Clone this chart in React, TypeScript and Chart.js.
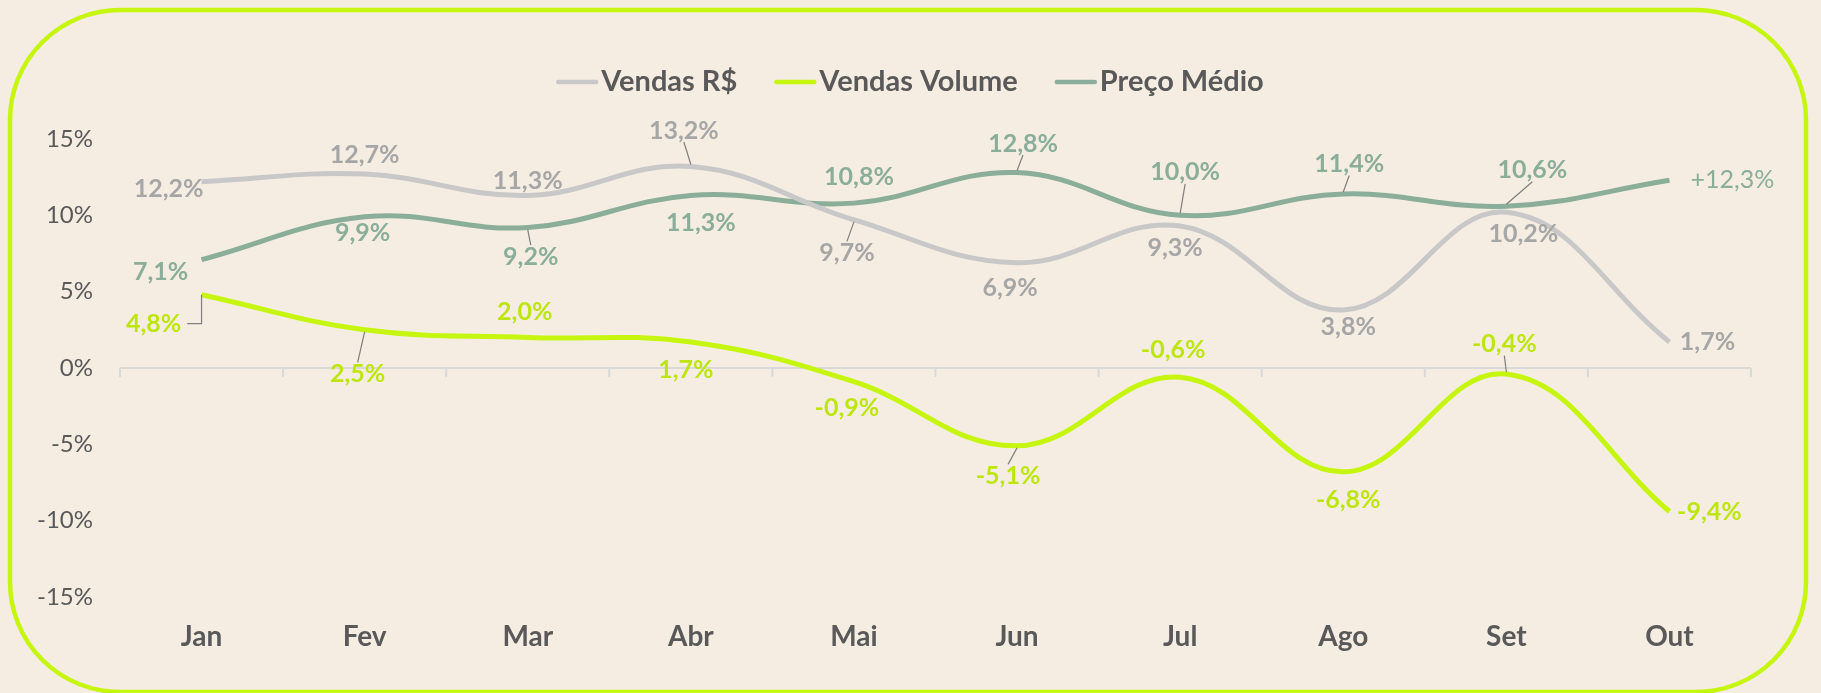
import React, { useEffect, useRef } from "react";
import { Chart, registerables } from "chart.js";

Chart.register(...registerables);

// ---- Data ----
const months = ["Jan", "Fev", "Mar", "Abr", "Mai", "Jun", "Jul", "Ago", "Set", "Out"];
const vendasRS = [12.2, 12.7, 11.3, 13.2, 9.7, 6.9, 9.3, 3.8, 10.2, 1.7];
const vendasVolume = [4.8, 2.5, 2.0, 1.7, -0.9, -5.1, -0.6, -6.8, -0.4, -9.4];
const precoMedio = [7.1, 9.9, 9.2, 11.3, 10.8, 12.8, 10.0, 11.4, 10.6, 12.3];
const yTicks = [-15, -10, -5, 0, 5, 10, 15];
const seriesNames = ["Vendas R$", "Vendas Volume", "Preço Médio"];

// ---- Label placement (pixel offsets from point: dx, dy; leader type) ----
const rsLabelPos = [[-33, 7], [0, -19], [0, -15], [-7, -36], [-7, 33], [-7, 25], [-5, 22], [5, 17], [17, 22], [38, 0]];
const rsLeader = ["", "", "", "line", "line", "", "", "", "", ""];
const volLabelPos = [[-48, 29], [-7, 44], [-3, -26], [-5, 28], [-7, 26], [-9, 30], [-7, -27], [5, 28], [-2, -30], [40, 0]];
const volLeader = ["elbow", "line", "", "", "", "line", "", "", "line", ""];
const precoLabelPos = [[-41, 12], [-2, 16], [3, 29], [10, 27], [5, -26], [6, -29], [5, -43], [6, -30], [26, -36], [63, 0]];
const precoLeader = ["", "", "line", "", "", "line", "line", "line", "line", ""];

const BG = "#f5ede2";
const LIME = "#c6f60f";
const TEXT = "#595959";
const FONT = "Lato";

const fmt = (v: number) => v.toFixed(1).replace(".", ",") + "%";

export default function App() {
  const ref = useRef<HTMLCanvasElement | null>(null);

  useEffect(() => {
    if (!ref.current) return;

    const seriesLabelCfg = [
      { pos: rsLabelPos, leader: rsLeader, color: "#a6a6a6" },
      { pos: volLabelPos, leader: volLeader, color: "#bde60f" },
      { pos: precoLabelPos, leader: precoLeader, color: "#8aae9a" },
    ];

    const bgPlugin = {
      id: "bgFrame",
      beforeDraw(chart: any) {
        const ctx = chart.ctx;
        ctx.save();
        ctx.fillStyle = BG;
        ctx.fillRect(0, 0, chart.width, chart.height);
        ctx.strokeStyle = LIME;
        ctx.lineWidth = 4.5;
        ctx.beginPath();
        (ctx as any).roundRect(10, 10, 1796, 682, 110);
        ctx.stroke();
        ctx.restore();
      },
    };

    const axisPlugin = {
      id: "zeroAxis",
      beforeDatasetsDraw(chart: any) {
        const ctx = chart.ctx;
        const { left, right } = chart.chartArea;
        const y0 = chart.scales.y.getPixelForValue(0);
        ctx.save();
        ctx.strokeStyle = "#d9d9d9";
        ctx.lineWidth = 2;
        ctx.beginPath();
        ctx.moveTo(left, y0);
        ctx.lineTo(right, y0);
        const n = months.length;
        for (let i = 0; i <= n; i++) {
          const x = left + ((right - left) * i) / n;
          ctx.moveTo(x, y0);
          ctx.lineTo(x, y0 + 9);
        }
        ctx.stroke();
        ctx.restore();
      },
    };

    const legendPlugin = {
      id: "customLegend",
      afterDraw(chart: any) {
        const ctx = chart.ctx;
        ctx.save();
        ctx.font = `bold 29px ${FONT}`;
        const lineW = 42;
        const gapText = 3;
        const gapItem = 37;
        const colors = chart.data.datasets.map((d: any) => d.borderColor);
        const widths = seriesNames.map((s) => ctx.measureText(s).width);
        const total = widths.reduce((a, w) => a + lineW + gapText + w, 0) + gapItem * (seriesNames.length - 1);
        let x = 910 - total / 2;
        const y = 82;
        seriesNames.forEach((s, i) => {
          ctx.strokeStyle = colors[i];
          ctx.lineWidth = 4.5;
          ctx.lineCap = "round";
          ctx.beginPath();
          ctx.moveTo(x + 2, y);
          ctx.lineTo(x + lineW - 2, y);
          ctx.stroke();
          ctx.fillStyle = TEXT;
          ctx.textBaseline = "middle";
          ctx.textAlign = "left";
          ctx.fillText(s, x + lineW + gapText, y);
          x += lineW + gapText + widths[i] + gapItem;
        });
        ctx.restore();
      },
    };

    const labelPlugin = {
      id: "dataLabels",
      afterDatasetsDraw(chart: any) {
        const ctx = chart.ctx;
        ctx.save();
        chart.data.datasets.forEach((ds: any, di: number) => {
          const meta = chart.getDatasetMeta(di);
          const cfg = seriesLabelCfg[di];
          meta.data.forEach((pt: any, i: number) => {
            const v = ds.data[i];
            const isLastPreco = di === 2 && i === ds.data.length - 1;
            const text = isLastPreco ? "+" + fmt(v) : fmt(v);
            ctx.font = `${isLastPreco ? "" : "bold "}25px ${FONT}`;
            const [dx, dy] = cfg.pos[i];
            const lx = pt.x + dx;
            const ly = pt.y + dy;
            const w = ctx.measureText(text).width;
            const h = 19;
            const lt = cfg.leader[i];
            if (lt) {
              ctx.strokeStyle = "#7f7f7f";
              ctx.lineWidth = 1.2;
              ctx.beginPath();
              if (lt === "elbow") {
                ctx.moveTo(pt.x, pt.y);
                ctx.lineTo(pt.x, ly);
                ctx.lineTo(lx + w / 2 + 6, ly);
              } else {
                const ty = dy > 0 ? ly - h / 2 - 2 : ly + h / 2 + 2;
                const sy = dy > 0 ? pt.y + 2 : pt.y - 2;
                ctx.moveTo(pt.x, sy);
                ctx.lineTo(lx, ty);
              }
              ctx.stroke();
            }
            ctx.fillStyle = cfg.color;
            ctx.textAlign = "center";
            ctx.textBaseline = "middle";
            ctx.fillText(text, lx, ly);
          });
        });
        ctx.restore();
      },
    };

    const chart = new Chart(ref.current, {
      type: "line",
      data: {
        labels: months,
        datasets: [
          { label: seriesNames[0], data: vendasRS, borderColor: "#c8c8c8", borderWidth: 5, pointRadius: 0, tension: 0.4, fill: false },
          { label: seriesNames[1], data: vendasVolume, borderColor: LIME, borderWidth: 5, pointRadius: 0, tension: 0.4, fill: false },
          { label: seriesNames[2], data: precoMedio, borderColor: "#8aae9a", borderWidth: 5, pointRadius: 0, tension: 0.4, fill: false },
        ],
      },
      options: {
        responsive: false,
        animation: false,
        layout: { padding: { top: 139, right: 70, bottom: 0, left: 0 } },
        plugins: { legend: { display: false }, tooltip: { enabled: false } },
        scales: {
          x: {
            offset: true,
            grid: { display: false, drawTicks: false },
            border: { display: false },
            ticks: { color: TEXT, font: { family: FONT, size: 28, weight: "bold" }, padding: 23 },
            afterFit: (s: any) => { s.height = 96; },
          },
          y: {
            min: yTicks[0],
            max: yTicks[yTicks.length - 1],
            afterBuildTicks: (s: any) => { s.ticks = yTicks.map((v) => ({ value: v })); },
            grid: { display: false, drawTicks: false },
            border: { display: false },
            ticks: { color: TEXT, font: { family: FONT, size: 24 }, padding: 27, callback: (v: any) => v + "%" },
            afterFit: (s: any) => { s.width = 120; },
          },
        },
      },
      plugins: [bgPlugin, axisPlugin, labelPlugin, legendPlugin],
    });
    return () => chart.destroy();
  }, []);

  return (
    <div style={{ position: "fixed", left: 0, top: 0, width: 1821, height: 693, background: BG }}>
      <canvas ref={ref} width={1821} height={693} style={{ display: "block" }} />
    </div>
  );
}
